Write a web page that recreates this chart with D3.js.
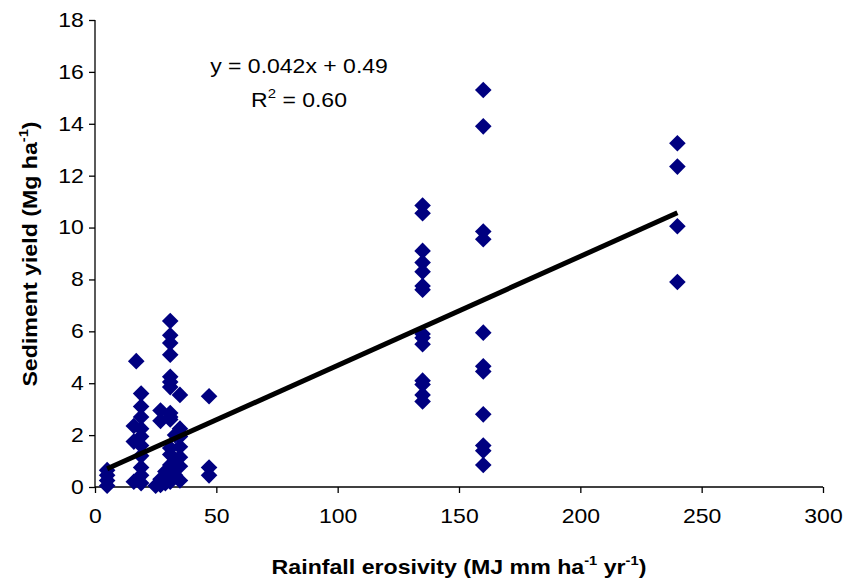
<!DOCTYPE html>
<html><head><meta charset="utf-8">
<script src="https://cdn.jsdelivr.net/npm/d3@7"></script>
<style>
body{margin:0;background:#fff;}
svg text{font-family:"Liberation Sans",Arial,sans-serif;fill:#000;}
</style></head>
<body><svg id="c" width="847" height="585"></svg>
<script>
// Rainfall erosivity (x) and sediment yield (y)
const erosivity = [
  5,5,5,5,
  16,16,16,17,
  19,19,19,19,19,19,19,19,19,19,
  27,27,27,27,25,29,29,
  31,31,31,31,31,31,31,31,31,31,31,31,31,31,31,
  33,33,33,
  35,35,35,35,35,35,35,
  47,47,47,
  135,135,135,135,135,135,135,135,135,135,135,135,135,135,
  160,160,160,160,160,160,160,160,160,160,160,
  240,240,240,240
];
const sediment = [
  0.65,0.45,0.25,0.05,
  2.35,1.75,0.2,4.85,
  3.6,3.1,2.7,2.25,1.95,1.6,1.2,0.75,0.45,0.15,
  2.95,2.55,0.3,0.08,0.05,0.6,0.15,
  6.4,5.85,5.55,5.1,4.25,4.05,3.85,2.85,2.7,2.6,1.5,1.25,0.85,0.5,0.2,
  2.0,1.0,0.45,
  3.55,2.25,1.95,1.55,1.15,0.8,0.25,
  3.5,0.75,0.45,
  10.85,10.55,9.1,8.65,8.3,7.75,7.6,5.9,5.75,5.5,4.1,3.95,3.55,3.3,
  15.3,13.9,9.85,9.55,5.95,4.65,4.45,2.8,1.6,1.4,0.85,
  13.25,12.35,10.05,7.9
];
const xTicks = [0,50,100,150,200,250,300];
const yTicks = [0,2,4,6,8,10,12,14,16,18];
const slope = 0.042, intercept = 0.49;
const eqLabel = "y = 0.042x + 0.49";
const r2Value = "0.60";

const svg = d3.select("#c");
const m = {l:95, t:20, r:24, b:98};
const W = 847 - m.l - m.r, H = 585 - m.t - m.b;
const x = d3.scaleLinear().domain([0,300]).range([0,W]);
const y = d3.scaleLinear().domain([0,18]).range([H,0]);
const g = svg.append("g").attr("transform",`translate(${m.l},${m.t})`);
const sx = 1.15;

const xa = g.append("g").attr("transform",`translate(0,${H})`)
  .call(d3.axisBottom(x).tickValues(xTicks).tickSize(6).tickPadding(16).tickFormat(d3.format("d")));
const ya = g.append("g")
  .call(d3.axisLeft(y).tickValues(yTicks).tickSize(6).tickPadding(8).tickFormat(d3.format("d")));
[xa,ya].forEach(a=>{
  a.select(".domain").attr("stroke","#000").attr("stroke-width",1.3);
  a.selectAll(".tick line").attr("stroke","#000").attr("stroke-width",1.3);
  a.selectAll(".tick text").style("font-size","20px").attr("font-family",null);
});
xa.selectAll(".tick text").attr("transform",`scale(${sx},1)`);
ya.selectAll(".tick text").attr("transform",`translate(-2,0) scale(${sx},1)`).attr("x",-8);
xa.selectAll("path.domain").attr("d",`M0,0H${W}`);
ya.selectAll("path.domain").attr("d",`M0,${H}V0`);

// points
const pts = erosivity.map((e,i)=>({x:e,y:sediment[i]}));
g.selectAll("path.pt").data(pts).join("path").attr("class","pt")
  .attr("d","M0,-8.3L8.3,0L0,8.3L-8.3,0Z")
  .attr("transform",d=>`translate(${x(d.x)},${y(d.y)})`)
  .attr("fill","#000080");

// trend line
const xmin = d3.min(erosivity), xmax = d3.max(erosivity);
g.append("line")
  .attr("x1",x(xmin)).attr("y1",y(slope*xmin+intercept))
  .attr("x2",x(xmax)).attr("y2",y(slope*xmax+intercept))
  .attr("stroke","#000").attr("stroke-width",5);

// equation
const eq = svg.append("g").attr("transform",`translate(299,0) scale(${sx},1)`);
eq.append("text").attr("x",0).attr("y",73).attr("text-anchor","middle")
  .style("font-size","20px").text(eqLabel);
const r2 = eq.append("text").attr("x",0).attr("y",107).attr("text-anchor","middle").style("font-size","20px");
r2.append("tspan").text("R");
r2.append("tspan").attr("dy",-9).style("font-size","13px").text("2");
r2.append("tspan").attr("dy",9).text(" = "+r2Value);

// x title
const xt = svg.append("g").attr("transform",`translate(459,0) scale(1.13,1)`)
  .append("text").attr("y",574).attr("text-anchor","middle")
  .style("font-size","20.5px").style("font-weight","bold");
xt.append("tspan").text("Rainfall erosivity (MJ mm ha");
xt.append("tspan").attr("dy",-9).style("font-size","13px").text("-1");
xt.append("tspan").attr("dy",9).text(" yr");
xt.append("tspan").attr("dy",-9).style("font-size","13px").text("-1");
xt.append("tspan").attr("dy",9).text(")");

// y title
const yt = svg.append("text").attr("transform",`translate(37,254) rotate(-90) scale(1.13,1)`)
  .attr("text-anchor","middle").style("font-size","20.5px").style("font-weight","bold");
yt.append("tspan").text("Sediment yield (Mg ha");
yt.append("tspan").attr("dy",-9).style("font-size","13px").text("-1");
yt.append("tspan").attr("dy",9).text(")");
</script></body></html>
